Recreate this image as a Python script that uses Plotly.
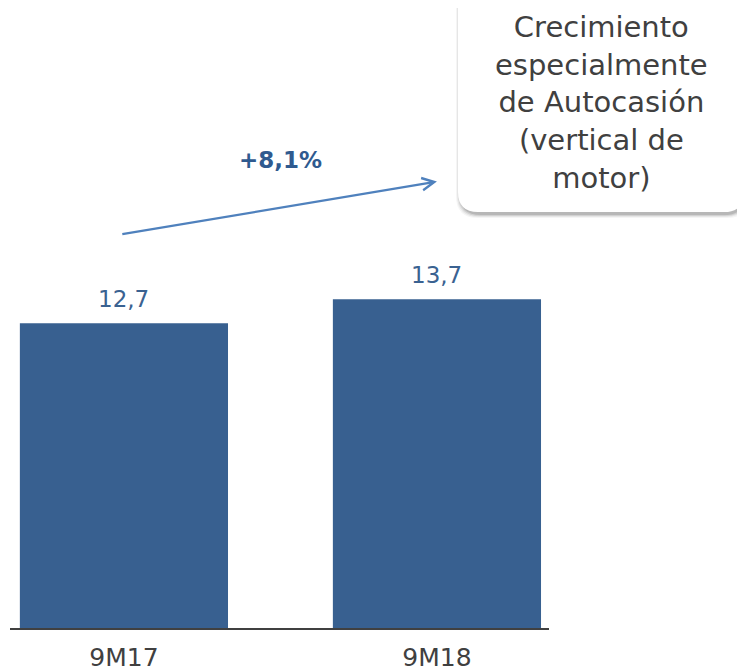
import plotly.graph_objects as go

# Data
periodos = ["9M17", "9M18"]
ingresos = [12.7, 13.7]
crecimiento = "+8,1%"
nota = "Crecimiento<br>especialmente<br>de Autocasión<br>(vertical de<br>motor)"

# page body adds an 8px margin, so the figure is 8px smaller than the window
OFF = 8
W, H = 745 - OFF, 672 - OFF
M_L, M_R, M_T, M_B = 2, 196, 0, 44
PW, PH = W - M_L - M_R, H - M_T - M_B
Y_MAX = PH / 24.0


def px_x(p):
    # window pixel -> paper x
    return (p - OFF - M_L) / PW


def px_y(p):
    # window pixel -> paper y
    return (H - M_B - (p - OFF)) / PH


fig = go.Figure()

fig.add_trace(
    go.Bar(
        x=periodos,
        y=ingresos,
        marker_color="#386090",
        marker_line_width=0,
        width=0.665,
        hoverinfo="skip",
    )
)

# value labels above the bars
for p, v in zip(periodos, ingresos):
    fig.add_annotation(
        x=p, y=v, text=f"{v:.1f}".replace(".", ","),
        showarrow=False, yanchor="bottom", yshift=9,
        font=dict(family="DejaVu Sans", size=23, color="#3A6291"),
    )

# growth arrow between bars
fig.add_annotation(
    x=1, y=18.6, ax=-0.01, ay=16.4,
    xref="x", yref="y", axref="x", ayref="y",
    text="", showarrow=True, arrowhead=5, arrowsize=1.1,
    arrowwidth=2.2, arrowcolor="#4F81BD", standoff=0,
)
fig.add_annotation(
    x=0.5, y=19.5, text=f"<b>{crecimiento}</b>", showarrow=False,
    font=dict(family="DejaVu Sans", size=23, color="#2F5A8F"),
)


# callout box with soft shadow
def rounded_box(x0, y0, x1, y1, r):
    return (
        f"M {px_x(x0 + r)} {px_y(y0)} L {px_x(x1 - r)} {px_y(y0)} "
        f"Q {px_x(x1)} {px_y(y0)} {px_x(x1)} {px_y(y0 + r)} "
        f"L {px_x(x1)} {px_y(y1 - r)} "
        f"Q {px_x(x1)} {px_y(y1)} {px_x(x1 - r)} {px_y(y1)} "
        f"L {px_x(x0 + r)} {px_y(y1)} "
        f"Q {px_x(x0)} {px_y(y1)} {px_x(x0)} {px_y(y1 - r)} "
        f"L {px_x(x0)} {px_y(y0 + r)} "
        f"Q {px_x(x0)} {px_y(y0)} {px_x(x0 + r)} {px_y(y0)} Z"
    )


for i, op in enumerate([0.04, 0.06, 0.09, 0.12]):
    d = 5 - i
    fig.add_shape(
        type="path", xref="paper", yref="paper",
        path=rounded_box(458 - d + 3, -15, 744 + d, 213 + d, 22),
        fillcolor=f"rgba(0,0,0,{op})", line_width=0, layer="above",
    )
fig.add_shape(
    type="path", xref="paper", yref="paper",
    path=rounded_box(458, -15, 744, 212, 20),
    fillcolor="#FFFFFF", line_width=0, layer="above",
)
fig.add_annotation(
    x=px_x(601), y=px_y(103), xref="paper", yref="paper",
    xanchor="center", yanchor="middle",
    text=nota, showarrow=False, align="center",
    font=dict(family="DejaVu Sans", size=29, color="#404040"),
)

fig.update_layout(
    width=W,
    height=H,
    margin=dict(l=M_L, r=M_R, t=M_T, b=M_B, autoexpand=False),
    plot_bgcolor="#FFFFFF",
    paper_bgcolor="#FFFFFF",
    showlegend=False,
    xaxis=dict(
        range=[-0.364, 1.358],
        showline=True, linecolor="#404040", linewidth=1.5,
        showgrid=False, ticks="", automargin=False,
        tickfont=dict(family="DejaVu Sans", size=25, color="#404040"),
        ticklabelstandoff=6,
    ),
    yaxis=dict(range=[0, Y_MAX], visible=False),
)

fig.write_html("out.html")
